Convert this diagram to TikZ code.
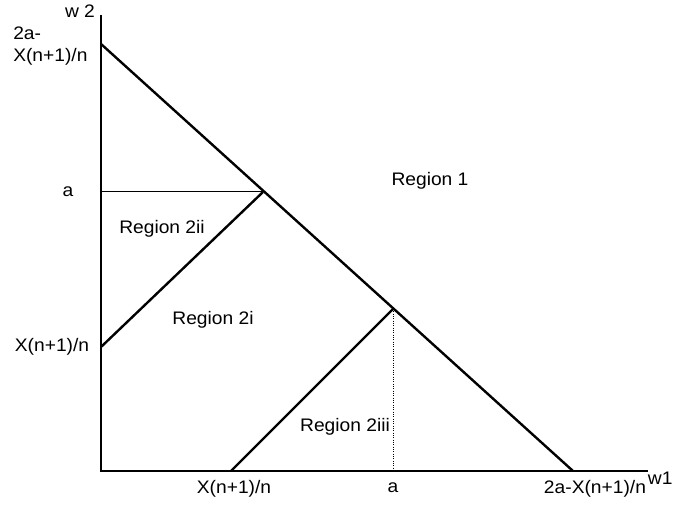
\documentclass[tikz,border=0pt]{standalone}
\usepackage{fontspec}
\setmainfont[FakeStretch=1.06]{Liberation Sans}
\usetikzlibrary{positioning}
\tikzset{el/.style={line cap=butt, line join=miter}}

\begin{document}
\begin{tikzpicture}[el, x=0.75pt, y=-0.75pt,
     axis/.style={draw=black, line width=1.6pt},
     bnd/.style={draw=black, line width=1.8pt},
     hairline/.style={draw=black, line width=0.75pt},
     lbl/.style={font=\fontsize{13.6}{16.5}\selectfont, inner sep=0pt}]
  \useasboundingbox (0,0) rectangle (683,506);
  % corner points of the regions
  \coordinate (O) at (101,471);
  \coordinate (ytop) at (101,15);
  \coordinate (xend) at (648,471);
  \coordinate (top) at (101,44);
  \coordinate (bot) at (573,471);
  \coordinate (p) at (263,192);
  \coordinate (q) at (393,309);
  \coordinate (s) at (101,347);
  \coordinate (t) at (231,471);
  \coordinate (ya) at (101,192);
  \coordinate (xa) at (393,471);
  \draw[axis] (ytop) -- (O) -- (xend);
  \draw[bnd] (top) -- (bot);
  \draw[hairline] (ya) -- (p);
  \draw[bnd] (s) -- (p);
  \draw[bnd] (t) -- (q);
  \draw[hairline, densely dotted] (q) -- (xa);
  % axis labels
  \node[lbl] (w2) at (80,11) {w 2};
  \node[lbl, anchor=west, align=left] (ltop) at (13,46) {2a-\\X(n+1)/n};
  \node[lbl] (la) at (68,192) {a};
  \node[lbl] (lx) at (52,347) {X(n+1)/n};
  \node[lbl] (lxb) at (234,489) {X(n+1)/n};
  \node[lbl] (lab) at (393,488) {a};
  \node[lbl] (lbot) at (595,489) {2a-X(n+1)/n};
  \node[lbl, anchor=west, yshift=8pt] (w1) at ([xshift=1pt]lbot.east) {w1};
  % regions
  \node[lbl] (r1) at (430,181) {Region 1};
  \node[lbl] (r2ii) at (162,229) {Region 2ii};
  \node[lbl] (r2i) at (213,320) {Region 2i};
  \node[lbl] (r2iii) at (345,427) {Region 2iii};
\end{tikzpicture}
\end{document}
